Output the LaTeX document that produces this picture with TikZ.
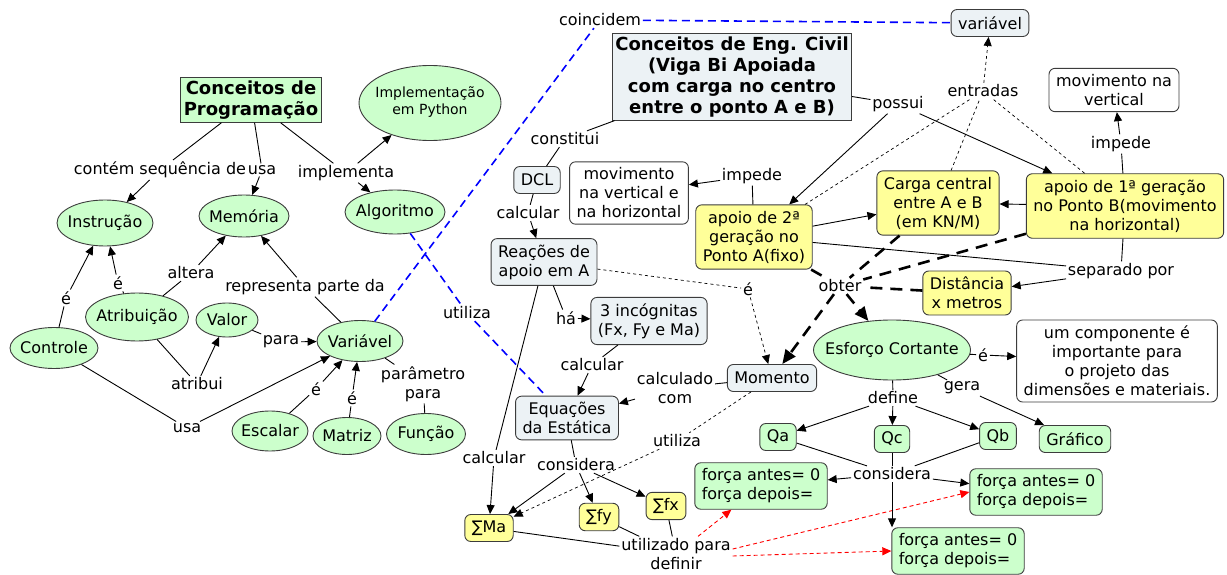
\documentclass[tikz,border=0pt]{standalone}
\usepackage{fontspec}
\setmainfont{DejaVu Sans}
\usetikzlibrary{shapes.geometric,arrows.meta}
\definecolor{cgreen}{RGB}{204,255,204}
\definecolor{cyellow}{RGB}{255,255,153}
\definecolor{cblue}{RGB}{236,242,245}
\definecolor{cborder}{RGB}{60,60,60}
\tikzset{
	oval/.style 2 args={ellipse, draw=cborder, fill=cgreen, inner sep=0pt, minimum width=#1, minimum height=#2},
	box/.style={rectangle, rounded corners=6pt, draw=cborder, align=center, inner xsep=7pt, inner ysep=6pt, minimum height=27pt},
	gbox/.style={box, fill=cgreen},
	ybox/.style={box, fill=cyellow},
	bbox/.style={box, fill=cblue},
	wbox/.style={box, fill=white},
	title/.style={rectangle, draw=cborder, align=center, font=\fontsize{18}{21}\selectfont\bfseries, inner xsep=3pt, inner ysep=3pt},
	lbl/.style={inner sep=1.5pt, align=center},
	arr/.style={-{Triangle[length=9pt,width=8pt]}},
	thindash/.style={line width=0.7pt, dash pattern=on 3pt off 3pt},
	bluedash/.style={blue, line width=1.6pt, dash pattern=on 8pt off 5pt},
	reddash/.style={red, dash pattern=on 4pt off 3pt},
	bigdash/.style={line width=2.6pt, dash pattern=on 12pt off 8pt},
	bigarr/.style={-{Triangle[length=14pt,width=12pt]}}
}
\begin{document}
\begin{tikzpicture}[x=1pt, y=-1pt, line width=0.9pt, font=\fontsize{16}{19}\selectfont]
		\useasboundingbox (0,0) rectangle (1227,575);
		% programacao
		\node[title, fill=cgreen] (prog) at (251,100) {Conceitos de\\Programação};
		\node[oval={142}{75}, font=\fontsize{14}{17}\selectfont] (impl) at (430,103) {\makebox[0pt]{\begin{tabular}{@{}c@{}}Implementação\\em Python\end{tabular}}};
		\node[oval={96}{46}] (instr) at (105,223) {\makebox[0pt]{Instrução}};
		\node[oval={90}{42}] (mem) at (244,216) {\makebox[0pt]{Memória}};
		\node[oval={100}{44}] (algo) at (395,212) {\makebox[0pt]{Algoritmo}};
		\node[oval={103}{48}] (atrib) at (137,317) {\makebox[0pt]{Atribuição}};
		\node[oval={62}{34}] (valor) at (227,320) {\makebox[0pt]{Valor}};
		\node[oval={88}{41}] (controle) at (54,348) {\makebox[0pt]{Controle}};
		\node[oval={86}{41}] (variavel) at (360,341) {\makebox[0pt]{Variável}};
		\node[oval={76}{40}] (escalar) at (270,431) {\makebox[0pt]{Escalar}};
		\node[oval={68}{37}] (matriz) at (347,436) {\makebox[0pt]{Matriz}};
		\node[oval={79}{41}] (funcao) at (426,434) {\makebox[0pt]{Função}};
		\node[lbl] (lcontem) at (160,170) {contém sequência de};
		\node[lbl] (lusa1) at (262,170) {usa};
		\node[lbl] (limpl) at (346,173) {implementa};
		\node[lbl] (le1) at (66,298) {é};
		\node[lbl] (le2) at (118,283) {é};
		\node[lbl] (lalt) at (191,273) {altera};
		\node[lbl] (lrep) at (305,287) {representa parte da};
		\node[lbl] (latr) at (197,384) {atribui};
		\node[lbl] (lpara) at (281,342) {para};
		\node[lbl] (lusa2) at (187,428) {usa};
		\node[lbl] (le3) at (316,389) {é};
		\node[lbl] (le4) at (352,398) {é};
		\node[lbl] (lparam) at (423,384) {parâmetro\\para};
		\node[lbl] (lcoinc) at (600,20) {coincidem};
		\node[lbl] (lutil1) at (467,313) {utiliza};
		\draw (prog) -- (lcontem); \draw[arr] (lcontem) -- (instr);
		\draw (prog) -- (lusa1); \draw[arr] (lusa1) -- (mem);
		\draw (prog) -- (limpl); \draw[arr] (limpl) -- (algo); \draw[arr] (limpl) -- (impl);
		\draw (controle) -- (le1); \draw[arr] (le1) -- (instr);
		\draw (atrib) -- (le2); \draw[arr] (le2) -- (instr);
		\draw (atrib) -- (lalt); \draw[arr] (lalt) -- (mem);
		\draw (variavel) -- (lrep); \draw[arr] (lrep) -- (mem);
		\draw (atrib) -- (latr); \draw[arr] (latr) -- (valor);
		\draw (valor) -- (lpara); \draw[arr] (lpara) -- (variavel);
		\draw (controle) -- (lusa2); \draw[arr] (lusa2) -- (variavel);
		\draw (escalar) -- (le3); \draw[arr] (le3) -- (variavel);
		\draw (matriz) -- (le4); \draw[arr] (le4) -- (variavel);
		\draw (variavel) -- (lparam) -- (funcao);
		% engenharia
		\node[title, fill=cblue] (eng) at (732,77) {Conceitos de Eng. Civil\\(Viga Bi Apoiada\\com carga no centro\\entre o ponto A e B)};
		\node[bbox] (var2) at (990,23) {variável};
		\node[wbox] (movv) at (1114,90) {movimento na\\vertical};
		\node[bbox] (dcl) at (537,180) {DCL};
		\node[wbox] (movvh) at (629,193) {movimento\\na vertical e\\na horizontal};
		\node[ybox] (apoio2) at (754,237) {apoio de 2ª\\geração no\\Ponto A(fixo)};
		\node[ybox] (carga) at (938,203) {Carga central\\entre A e B\\(em KN/M)};
		\node[ybox] (apoio1) at (1125,206) {apoio de 1ª geração\\no Ponto B(movimento\\na horizontal)};
		\node[bbox] (reac) at (544,262) {Reações de\\apoio em A};
		\node[ybox] (dist) at (967,293) {Distância\\x metros};
		\node[bbox] (inc) at (649,321) {3 incógnitas\\(Fx, Fy e Ma)};
		\node[oval={157}{60}] (esforco) at (892,350) {\makebox[0pt]{Esforço Cortante}};
		\node[wbox] (comp) at (1117,361) {um componente é\\importante para\\o projeto das\\dimensões e materiais.};
		\node[bbox] (momento) at (772,378) {Momento};
		\node[bbox] (equ) at (567,418) {Equações\\da Estática};
		\node[gbox] (qa) at (778,437) {Qa};
		\node[gbox] (qc) at (892,439) {Qc};
		\node[gbox] (qb) at (998,436) {Qb};
		\node[gbox] (graf) at (1075,439) {Gráfico};
		\node[gbox, align=left] (f1) at (761,486) {força antes= 0\\força depois=};
		\node[gbox, align=left] (f2) at (1036,492) {força antes= 0\\força depois=};
		\node[gbox, align=left] (f3) at (958,551) {força antes= 0\\força depois=};
		\node[ybox] (sma) at (489,528) {∑Ma};
		\node[ybox] (sfy) at (599,517) {∑fy};
		\node[ybox] (sfx) at (666,506) {∑fx};
		\node[lbl] (lconst) at (565,139) {constitui};
		\node[lbl] (lposs) at (898,104) {possui};
		\node[lbl] (lentr) at (983,91) {entradas};
		\node[lbl] (limp1) at (1121,144) {impede};
		\node[lbl] (limp2) at (752,176) {impede};
		\node[lbl] (lcalc1) at (528,213) {calcular};
		\node[lbl] (le5) at (748,289) {é};
		\node[lbl] (lobter) at (840,286) {obter};
		\node[lbl] (lsep) at (1121,271) {separado por};
		\node[lbl] (lha) at (566,318) {há};
		\node[lbl] (le6) at (983,355) {é};
		\node[lbl] (lcalc2) at (592,365) {calcular};
		\node[lbl] (lcalcc) at (675,388) {calculado\\com};
		\node[lbl] (lgera) at (962,388) {gera};
		\node[lbl] (ldef) at (893,398) {define};
		\node[lbl] (lutil2) at (677,441) {utiliza};
		\node[lbl] (lcalc3) at (494,458) {calcular};
		\node[lbl] (lcons1) at (576,465) {considera};
		\node[lbl] (lcons2) at (892,474) {considera};
		\node[lbl] (lutil3) at (676,554) {utilizado para\\definir};
		% ligacoes azuis
		\draw[bluedash] (variavel) -- (lcoinc) -- (var2);
		\draw[bluedash] (algo) -- (lutil1) -- (equ);
		% ligacoes
		\draw (eng) -- (lconst) -- (dcl);
		\draw (eng) -- (lposs); \draw[arr] (lposs) -- (apoio2); \draw[arr] (lposs) -- (apoio1);
		\draw[thindash] (apoio2) -- (lentr); \draw[thindash] (carga) -- (lentr); \draw[thindash] (apoio1) -- (lentr);
		\draw[thindash, arr] (lentr) -- (var2);
		\draw (apoio1) -- (limp1); \draw[arr] (limp1) -- (movv);
		\draw (apoio2) -- (limp2); \draw[arr] (limp2) -- (movvh);
		\draw[arr] (apoio2) -- (carga);
		\draw[arr] (apoio1) -- (carga);
		\draw (apoio2) -- (lsep); \draw (apoio1) -- (lsep); \draw[arr] (lsep) -- (dist);
		\draw[bigdash] (apoio2) -- (lobter); \draw[bigdash] (carga) -- (lobter);
		\draw[bigdash] (apoio1) -- (lobter); \draw[bigdash] (dist) -- (lobter);
		\draw[bigdash, bigarr] (lobter) -- (momento); \draw[bigdash, bigarr] (lobter) -- (esforco);
		\draw (dcl) -- (lcalc1); \draw[arr] (lcalc1) -- (reac);
		\draw[thindash] (reac) -- (le5); \draw[thindash, arr] (le5) -- (momento);
		\draw (reac) -- (lha); \draw[arr] (lha) -- (inc);
		\draw (inc) -- (lcalc2); \draw[arr] (lcalc2) -- (equ);
		\draw (momento) -- (lcalcc); \draw[arr] (lcalcc) -- (equ);
		\draw[thindash] (momento) -- (lutil2); \draw[thindash, arr] (lutil2) -- (sma);
		\draw (reac) -- (lcalc3); \draw[arr] (lcalc3) -- (sma);
		\draw (equ) -- (lcons1); \draw[arr] (lcons1) -- (sma); \draw[arr] (lcons1) -- (sfy); \draw[arr] (lcons1) -- (sfx);
		\draw (sma) -- (lutil3); \draw (sfy) -- (lutil3); \draw (sfx) -- (lutil3);
		\draw[reddash, arr] (lutil3) -- (f1);
		\draw[reddash, arr] ([yshift=5pt]lutil3.east) -- (f2.west);
		\draw[reddash, arr] ([yshift=-2pt]lutil3.east) -- (f3.west);
		\draw (esforco) -- (le6); \draw[arr] (le6) -- (comp);
		\draw (esforco) -- (lgera); \draw[arr] (lgera) -- (graf);
		\draw (esforco) -- (ldef); \draw[arr] (ldef) -- (qa); \draw[arr] (ldef) -- (qc); \draw[arr] (ldef) -- (qb);
		\draw (qa) -- (lcons2); \draw (qb) -- (lcons2); \draw (qc) -- (lcons2);
		\draw[arr] (lcons2) -- (f1); \draw[arr] (lcons2) -- (f2); \draw[arr] (lcons2) -- (lcons2 |- f3.north);
\end{tikzpicture}
\end{document}
